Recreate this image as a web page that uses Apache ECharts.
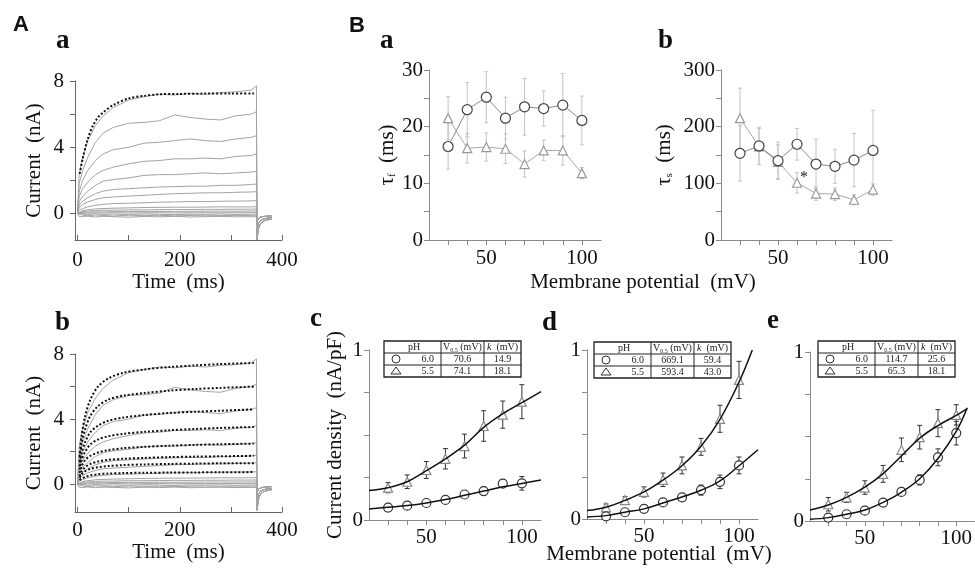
<!DOCTYPE html>
<html>
<head>
<meta charset="utf-8">
<script src="https://cdn.jsdelivr.net/npm/echarts@6/dist/echarts.min.js"></script>
<style>
  html, body {margin: 0; padding: 0; background: #fff;}
  #chart {width: 975px; height: 570px;}
</style>
</head>
<body>
<div id="chart"></div>
<script>
// ---- data ----
const aTime = [0, 3, 10, 20, 35, 50, 70, 100, 130, 160, 190, 220, 250, 280, 310, 340, 350];
const aTraces = [
  [0, 2.3, 3.4, 4.4, 5.3, 5.9, 6.4, 6.85, 7.05, 7.2, 7.15, 7.25, 7.2, 7.3, 7.35, 7.45, 7.7],
  [0, 1.8, 2.6, 3.4, 4.3, 4.85, 5.2, 5.45, 5.5, 5.6, 5.95, 5.8, 5.7, 5.65, 5.9, 6.0, 6.15],
  [0, 1.3, 2.0, 2.6, 3.2, 3.6, 3.85, 4.0, 4.25, 4.3, 4.4, 4.5, 4.4, 4.35, 4.5, 4.6, 4.7],
  [0, 1.0, 1.5, 1.9, 2.35, 2.6, 2.8, 3.0, 3.15, 3.2, 3.3, 3.3, 3.35, 3.3, 3.45, 3.5, 3.6],
  [0, 0.7, 1.05, 1.35, 1.7, 1.95, 2.05, 2.15, 2.3, 2.35, 2.35, 2.4, 2.45, 2.4, 2.45, 2.5, 2.55],
  [0, 0.5, 0.75, 0.95, 1.2, 1.35, 1.45, 1.5, 1.55, 1.6, 1.62, 1.65, 1.65, 1.7, 1.7, 1.75, 1.78],
  [0, 0.35, 0.55, 0.7, 0.85, 0.95, 1.0, 1.05, 1.1, 1.15, 1.2, 1.22, 1.25, 1.25, 1.28, 1.3, 1.32],
  [0, 0.2, 0.3, 0.4, 0.5, 0.55, 0.6, 0.62, 0.65, 0.68, 0.7, 0.72, 0.72, 0.74, 0.75, 0.76, 0.77],
  [0, 0.1, 0.18, 0.22, 0.28, 0.3, 0.32, 0.34, 0.36, 0.37, 0.38, 0.38, 0.39, 0.4, 0.4, 0.4, 0.41],
  [0, 0.08, 0.12, 0.15, 0.18, 0.2, 0.2, 0.22, 0.22, 0.23, 0.24, 0.24, 0.25, 0.25, 0.26, 0.26, 0.27],
  [0, 0.05, 0.06, 0.08, 0.1, 0.1, 0.11, 0.12, 0.12, 0.13, 0.12, 0.13, 0.14, 0.14, 0.14, 0.15, 0.15],
  [0, 0.02, 0.02, 0.03, 0.04, 0.02, 0.05, 0.03, 0.04, 0.05, 0.03, 0.04, 0.05, 0.04, 0.05, 0.05, 0.06],
  [0, -0.05, -0.03, -0.06, -0.02, -0.05, -0.04, -0.06, -0.03, -0.05, -0.07, -0.04, -0.05, -0.03, -0.06, -0.04, -0.05],
  [0, -0.12, -0.1, -0.14, -0.09, -0.12, -0.15, -0.1, -0.13, -0.11, -0.14, -0.12, -0.1, -0.13, -0.11, -0.12, -0.1],
  [0, -0.18, -0.2, -0.16, -0.21, -0.17, -0.19, -0.22, -0.18, -0.2, -0.17, -0.21, -0.19, -0.18, -0.2, -0.19, -0.2]
];
const tailTime = [351, 354, 358, 364, 372, 380];
const tailDeep = [-1.6, -0.9, -0.6, -0.45, -0.38, -0.33];
const tailMid = [-1.1, -0.6, -0.42, -0.33, -0.28, -0.25];
const tailLow = [-0.5, -0.3, -0.22, -0.18, -0.16, -0.14];

// single exponential fit (Aa)
const aFitTime = [4, 10, 20, 30, 40, 50, 70, 100, 130, 160, 200, 250, 300, 345];
const aFit = [2.4, 3.3, 4.5, 5.3, 5.8, 6.1, 6.55, 6.95, 7.1, 7.2, 7.22, 7.24, 7.25, 7.25];
// double exponential fits (Ab)
const bFitTime = [4, 8, 15, 25, 40, 60, 90, 130, 180, 230, 280, 345];
const bFits = [
  [1.7, 3.0, 4.2, 5.2, 6.0, 6.5, 6.85, 7.05, 7.2, 7.3, 7.38, 7.45],
  [1.4, 2.5, 3.4, 4.2, 4.8, 5.2, 5.45, 5.6, 5.75, 5.85, 5.92, 6.0],
  [1.1, 1.9, 2.6, 3.2, 3.6, 3.9, 4.1, 4.25, 4.38, 4.45, 4.52, 4.6],
  [0.9, 1.5, 2.0, 2.45, 2.75, 2.95, 3.1, 3.22, 3.32, 3.4, 3.46, 3.52],
  [0.7, 1.1, 1.5, 1.75, 1.95, 2.1, 2.22, 2.3, 2.37, 2.42, 2.46, 2.5],
  [0.5, 0.8, 1.05, 1.25, 1.4, 1.5, 1.57, 1.62, 1.67, 1.7, 1.72, 1.75],
  [0.4, 0.6, 0.8, 0.95, 1.05, 1.12, 1.18, 1.22, 1.25, 1.27, 1.29, 1.3],
  [0.25, 0.35, 0.45, 0.55, 0.62, 0.66, 0.69, 0.71, 0.72, 0.73, 0.74, 0.75]
];

const voltages = [30, 40, 50, 60, 70, 80, 90, 100];
const tauF60 = [16.5, 23, 25.2, 21.5, 23.5, 23.2, 23.8, 21.1];
const tauF60Err = [4, 4.8, 4.5, 3.7, 5, 3.1, 5.6, 4.3];
const tauF55 = [21.5, 16.2, 16.4, 16.1, 13.4, 15.8, 15.8, 11.8];
const tauF55Err = [3.8, 2.6, 2.5, 2.6, 2.3, 1.8, 2.6, 1.0];
const tauS60 = [153, 166, 140, 169, 134, 130, 141, 158];
const tauS60Err = [49, 33, 33, 28, 44, 30, 47, 71];
const tauS55 = [215, 165, 138, 101, 82, 81, 71, 89];
const tauS55Err = [53, 32, 30, 18, 12, 11, 9, 10];

const cDens60 = [0.073, 0.084, 0.10, 0.118, 0.15, 0.17, 0.214, 0.216];
const cDens60Err = [0.012, 0.012, 0.012, 0.012, 0.02, 0.025, 0.02, 0.04];
const cDens55 = [0.19, 0.225, 0.294, 0.36, 0.435, 0.553, 0.62, 0.696];
const cDens55Err = [0.03, 0.04, 0.05, 0.06, 0.07, 0.09, 0.08, 0.1];
const dDens60 = [0.016, 0.04, 0.06, 0.098, 0.128, 0.171, 0.22, 0.317];
const dDens60Err = [0.01, 0.01, 0.012, 0.015, 0.015, 0.03, 0.04, 0.05];
const dDens55 = [0.069, 0.112, 0.16, 0.232, 0.317, 0.427, 0.593, 0.823];
const dDens55Err = [0.02, 0.02, 0.03, 0.04, 0.05, 0.05, 0.08, 0.11];
const eDens60 = [0.02, 0.04, 0.061, 0.109, 0.172, 0.243, 0.377, 0.52];
const eDens60Err = [0.01, 0.01, 0.012, 0.015, 0.015, 0.03, 0.05, 0.07];
const eDens55 = [0.099, 0.14, 0.198, 0.279, 0.421, 0.496, 0.579, 0.628];
const eDens55Err = [0.04, 0.03, 0.04, 0.05, 0.07, 0.07, 0.08, 0.06];

// fitted curves
const fitV = [20, 30, 40, 50, 60, 70, 80, 90, 100, 110];
const cFit60 = [0.065, 0.075, 0.085, 0.10, 0.12, 0.145, 0.17, 0.195, 0.215, 0.235];
const cFit55 = [0.173, 0.19, 0.225, 0.29, 0.36, 0.44, 0.545, 0.625, 0.69, 0.755];
const dFit60 = [0.012, 0.02, 0.04, 0.06, 0.095, 0.13, 0.17, 0.225, 0.315, 0.41];
const dFitV55 = [20, 30, 40, 50, 60, 70, 80, 90, 100, 107];
const dFit55 = [0.05, 0.07, 0.11, 0.16, 0.23, 0.315, 0.43, 0.59, 0.81, 1.0];
const eFitV = [20, 30, 40, 50, 60, 70, 80, 90, 100, 106];
const eFit60 = [0.01, 0.02, 0.04, 0.065, 0.11, 0.17, 0.25, 0.37, 0.53, 0.67];
const eFit55 = [0.065, 0.095, 0.14, 0.2, 0.28, 0.385, 0.49, 0.565, 0.625, 0.665];

const tableHead = ['pH', 'V0.5 (mV)', 'k (mV)'];
const cTable = [['6.0', '70.6', '14.9'], ['5.5', '74.1', '18.1']];
const dTable = [['6.0', '669.1', '59.4'], ['5.5', '593.4', '43.0']];
const eTable = [['6.0', '114.7', '25.6'], ['5.5', '65.3', '18.1']];

// ---- helpers ----
const serif = "'Liberation Serif', 'DejaVu Serif', serif";
const sans = "'Liberation Sans', Arial, sans-serif";

const pairs = (xs, ys) => xs.map((x, i) => [x, ys[i]]);

function xAx(gi, min, max, ticks, labels, color, name, gap, inside, margin) {
  return {
    type: 'value', gridIndex: gi, min, max,
    axisLine: {onZero: false, lineStyle: {color, width: 1}},
    splitLine: {show: false},
    axisTick: {customValues: ticks, inside: !!inside, length: 5, lineStyle: {color}},
    axisLabel: {customValues: labels, color: '#111', fontFamily: serif, fontSize: 21, margin: margin || 7},
    name: name || '', nameLocation: 'middle', nameGap: gap || 30,
    nameTextStyle: {color: '#111', fontFamily: serif, fontSize: 21}
  };
}
function yAx(gi, min, max, ticks, labels, color, name, gap, rich, margin) {
  return {
    type: 'value', gridIndex: gi, min, max,
    axisLine: {show: true, onZero: false, lineStyle: {color, width: 1}},
    splitLine: {show: false},
    axisTick: {show: true, customValues: ticks, length: 5, lineStyle: {color}},
    axisLabel: {customValues: labels, color: '#111', fontFamily: serif, fontSize: 21, margin: margin || 6},
    name, nameLocation: 'middle', nameGap: gap, nameRotate: 90,
    nameTextStyle: {color: '#111', fontFamily: serif, fontSize: 21, rich}
  };
}

function errBars(idx, xs, ys, es, color, cap) {
  return {
    type: 'custom', xAxisIndex: idx, yAxisIndex: idx, z: 2, silent: true,
    data: xs.map((x, i) => [x, ys[i], es[i]]),
    renderItem(params, api) {
      const x = api.value(0), y = api.value(1), e = api.value(2);
      const t = api.coord([x, y + e]), b = api.coord([x, y - e]);
      const st = {stroke: color, lineWidth: 1};
      return {type: 'group', children: [
        {type: 'line', shape: {x1: t[0], y1: t[1], x2: b[0], y2: b[1]}, style: st},
        {type: 'line', shape: {x1: t[0] - cap, y1: t[1], x2: t[0] + cap, y2: t[1]}, style: st},
        {type: 'line', shape: {x1: b[0] - cap, y1: b[1], x2: b[0] + cap, y2: b[1]}, style: st}
      ]};
    }
  };
}
function marks(idx, xs, ys, shape, border, size, lineColor) {
  return {
    type: 'line', xAxisIndex: idx, yAxisIndex: idx, z: 3, data: pairs(xs, ys),
    symbol: shape, symbolSize: size, showSymbol: true,
    itemStyle: {color: '#fff', borderColor: border, borderWidth: 1.2},
    lineStyle: lineColor ? {color: lineColor, width: 1} : {width: 0, opacity: 0}
  };
}
function fitLine(idx, xs, ys) {
  return {
    type: 'line', xAxisIndex: idx, yAxisIndex: idx, z: 4, data: pairs(xs, ys),
    smooth: 0.4, showSymbol: false, symbol: 'none',
    lineStyle: {color: '#111', width: 1.5}
  };
}

function tableGraphic(x0, y0, rows) {
  const w = 137, rh = 12, h = rh * 3, c1 = 57, c2 = 100;
  const ln = (x1, y1, x2, y2) => ({type: 'line', shape: {x1, y1, x2, y2}, style: {stroke: '#222', lineWidth: 1}});
  const txt = (x, y, text, align, rich) => ({
    type: 'text', x, y,
    style: {text, align: align || 'center', verticalAlign: 'middle', fill: '#222', font: '10px ' + serif, rich}
  });
  const cx2 = x0 + (c1 + c2) / 2, cx3 = x0 + (c2 + w) / 2;
  const small = {n: {fontSize: 10, fontFamily: serif, fill: '#222'}, s: {fontSize: 6, fontFamily: serif, fill: '#222', verticalAlign: 'bottom', padding: [6, 0, 0, 0]}, i: {fontSize: 10, fontFamily: serif, fontStyle: 'italic', fill: '#222'}};
  const els = [
    {type: 'rect', shape: {x: x0, y: y0, width: w, height: h}, style: {fill: '#fff', stroke: '#222', lineWidth: 1.3}},
    ln(x0, y0 + rh, x0 + w, y0 + rh), ln(x0, y0 + 2 * rh, x0 + w, y0 + 2 * rh),
    ln(x0 + c1, y0, x0 + c1, y0 + h), ln(x0 + c2, y0, x0 + c2, y0 + h),
    txt(x0 + 30, y0 + rh / 2, tableHead[0]),
    txt(cx2, y0 + rh / 2, '{n|V}{s|0.5}{n| (mV)}', 'center', small),
    txt(cx3, y0 + rh / 2, '{i|k}{n|  (mV)}', 'center', small),
    {type: 'circle', shape: {cx: x0 + 12, cy: y0 + rh * 1.5, r: 4}, style: {fill: '#fff', stroke: '#333', lineWidth: 1}},
    {type: 'polygon', shape: {points: [[x0 + 12, y0 + rh * 2 + 2], [x0 + 17, y0 + rh * 3 - 3], [x0 + 7, y0 + rh * 3 - 3]]}, style: {fill: '#fff', stroke: '#333', lineWidth: 1}}
  ];
  rows.forEach((r, i) => {
    const cy = y0 + rh * (i + 1.5);
    els.push(txt(x0 + 50, cy, r[0], 'right'), txt(cx2, cy, r[1]), txt(cx3, cy, r[2]));
  });
  els.forEach(e => { e.z = 10; });
  return els;
}

function label(text, x, y, font) {
  return {type: 'text', x, y, style: {text, font, fill: '#111', verticalAlign: 'bottom'}};
}

// ---- layout ----
const grids = [
  {left: 75, top: 81, width: 207, height: 159},   // Aa
  {left: 75, top: 354, width: 207, height: 158},  // Ab
  {left: 429, top: 70, width: 172, height: 170},  // Ba
  {left: 721, top: 70, width: 171, height: 170},  // Bb
  {left: 369, top: 350, width: 172, height: 170}, // c
  {left: 587, top: 350, width: 171, height: 169}, // d
  {left: 810, top: 352, width: 172, height: 169}  // e
];

const vTicks = [30, 40, 50, 60, 70, 80, 90, 100];
const axGray = '#666', axLight = '#8a8a8a';
const xAxes = [
  xAx(0, -5, 400, [0, 100, 200, 300, 400], [0, 200, 400], axGray, 'Time  (ms)', 31, true, 10),
  xAx(1, -5, 400, [0, 100, 200, 300, 400], [0, 200, 400], axGray, 'Time  (ms)', 26, true, 8),
  xAx(2, 20, 110, vTicks, [50, 100], axLight, '', 30, false, 8),
  xAx(3, 20, 110, vTicks, [50, 100], axLight, '', 30, false, 8),
  xAx(4, 20, 110, vTicks, [50, 100], axLight),
  xAx(5, 20, 110, vTicks, [50, 100], axLight),
  xAx(6, 20, 110, vTicks, [50, 100], axLight)
];
const tauRich = {t: {fontFamily: serif, fontSize: 21, color: '#111'}, s: {fontFamily: serif, fontSize: 11, color: '#111', padding: [10, 0, 0, 0]}};
const qTicks = [0, 0.25, 0.5, 0.75, 1];
const yAxes = [
  yAx(0, -1.6, 8, [0, 2, 4, 6, 8], [0, 4, 8], axGray, 'Current  (nA)', 30, null, 11),
  yAx(1, -1.7, 8, [0, 2, 4, 6, 8], [0, 4, 8], axGray, 'Current  (nA)', 30, null, 11),
  yAx(2, 0, 30, [0, 5, 10, 15, 20, 25, 30], [0, 10, 20, 30], axLight, '{t|τ}{s|f}{t|  (ms)}', 27, tauRich),
  yAx(3, 0, 300, [0, 50, 100, 150, 200, 250, 300], [0, 100, 200, 300], axLight, '{t|τ}{s|s}{t|  (ms)}', 46, tauRich),
  yAx(4, 0, 1, qTicks, [0, 1], axLight, 'Current density  (nA/pF)', 23),
  yAx(5, 0, 1, qTicks, [0, 1], axLight, '', 20),
  yAx(6, 0, 1, qTicks, [0, 1], axLight, '', 20)
];

const series = [];
const traceColor = '#a3a3a3';
[0, 1].forEach(gi => {
  aTraces.forEach((tr, k) => {
    const tail = k < 4 ? tailDeep : (k < 9 ? tailMid : tailLow);
    series.push({
      type: 'line', xAxisIndex: gi, yAxisIndex: gi, showSymbol: false, symbol: 'none', z: 1,
      data: pairs(aTime, tr).concat(pairs(tailTime, tail)),
      lineStyle: {color: traceColor, width: 1}
    });
  });
});
series.push({
  type: 'line', xAxisIndex: 0, yAxisIndex: 0, showSymbol: false, symbol: 'none', z: 5,
  data: pairs(aFitTime, aFit), smooth: 0.3,
  lineStyle: {color: '#111', width: 2, type: [2, 2]}
});
bFits.forEach(f => {
  series.push({
    type: 'line', xAxisIndex: 1, yAxisIndex: 1, showSymbol: false, symbol: 'none', z: 5,
    data: pairs(bFitTime, f), smooth: 0.3,
    lineStyle: {color: '#111', width: 2, type: [2, 2]}
  });
});

// B: time constants
series.push(
  errBars(2, voltages, tauF60, tauF60Err, '#c4c4c4', 2),
  errBars(2, voltages, tauF55, tauF55Err, '#c4c4c4', 2),
  marks(2, voltages, tauF55, 'triangle', '#9a9a9a', 9, '#a8a8a8'),
  marks(2, voltages, tauF60, 'circle', '#444', 10, '#888'),
  errBars(3, voltages, tauS60, tauS60Err, '#c4c4c4', 2),
  errBars(3, voltages, tauS55, tauS55Err, '#c4c4c4', 2),
  marks(3, voltages, tauS55, 'triangle', '#9a9a9a', 9, '#a8a8a8'),
  marks(3, voltages, tauS60, 'circle', '#444', 10, '#888')
);

// c, d, e: current density
const dens = [
  [4, cDens60, cDens60Err, cDens55, cDens55Err, fitV, cFit60, fitV, cFit55],
  [5, dDens60, dDens60Err, dDens55, dDens55Err, fitV, dFit60, dFitV55, dFit55],
  [6, eDens60, eDens60Err, eDens55, eDens55Err, eFitV, eFit60, eFitV, eFit55]
];
dens.forEach(([gi, y6, e6, y5, e5, fx6, f6, fx5, f5]) => {
  series.push(
    errBars(gi, voltages, y5, e5, '#333', 2.5),
    errBars(gi, voltages, y6, e6, '#333', 2.5),
    fitLine(gi, fx6, f6),
    fitLine(gi, fx5, f5),
    marks(gi, voltages, y5, 'triangle', '#888', 9),
    marks(gi, voltages, y6, 'circle', '#333', 9)
  );
});

const graphic = [
  label('A', 13, 36, 'bold 22px ' + sans),
  label('a', 56, 55, 'bold 27px ' + serif),
  label('b', 55, 337, 'bold 27px ' + serif),
  label('B', 349, 37, 'bold 22px ' + sans),
  label('a', 380, 55, 'bold 27px ' + serif),
  label('b', 658, 55, 'bold 27px ' + serif),
  label('c', 310, 333, 'bold 27px ' + serif),
  label('d', 542, 337, 'bold 27px ' + serif),
  label('e', 767, 335, 'bold 27px ' + serif),
  {type: 'text', x: 804, y: 178, style: {text: '*', font: '16px ' + serif, fill: '#222', align: 'center', verticalAlign: 'middle'}},
  {type: 'text', x: 643, y: 282, style: {text: 'Membrane potential  (mV)', font: '21px ' + serif, fill: '#111', align: 'center', verticalAlign: 'middle'}},
  {type: 'text', x: 659, y: 554, style: {text: 'Membrane potential  (mV)', font: '21px ' + serif, fill: '#111', align: 'center', verticalAlign: 'middle'}}
]
  .concat(tableGraphic(384, 341, cTable))
  .concat(tableGraphic(594, 342, dTable))
  .concat(tableGraphic(818, 341, eTable));

const chart = echarts.init(document.getElementById('chart'));
chart.setOption({
  animation: false,
  backgroundColor: '#fff',
  grid: grids,
  xAxis: xAxes,
  yAxis: yAxes,
  series,
  graphic
});
</script>
</body>
</html>
